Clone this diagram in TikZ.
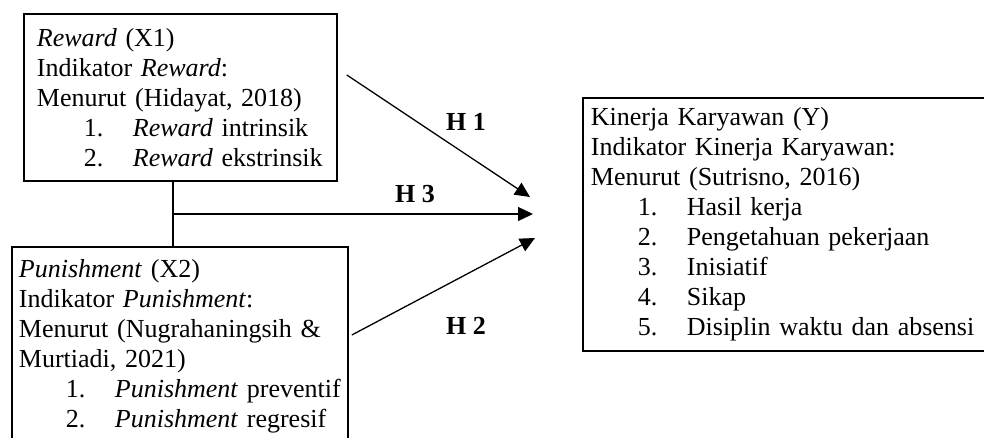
\documentclass[tikz,border=0pt]{standalone}
\usepackage{fontspec}
\setmainfont{Liberation Serif}
\usetikzlibrary{arrows.meta}
\newcommand{\itm}[2]{\hspace*{23.5pt}\makebox[24.5pt][l]{#1}#2}

\begin{document}
\begin{tikzpicture}[x=0.5pt,y=-0.5pt,
  varbox/.style={draw,line width=0.9pt,anchor=north west,align=left,
    font=\fontsize{13}{15}\selectfont,inner ysep=4.5pt},
  hyp/.style={line width=0.65pt,-{Triangle[length=7.5pt,width=7pt]}},
  hlabel/.style={font=\fontsize{13}{15}\selectfont\bfseries}]
  \useasboundingbox (0,0) rectangle (984,438);
  \clip (0,0) rectangle (984,438);
  % independent variables
  \node[varbox,inner xsep=6.5pt,text width=143.5pt,minimum height=83.5pt] (rwd) at (23,13)
    {\textit{Reward} (X1)\\
     Indikator \textit{Reward}:\\
     Menurut (Hidayat, 2018)\\
     \itm{1.}{\textit{Reward} intrinsik}\\
     \itm{2.}{\textit{Reward} ekstrinsik}};
  \node[varbox,inner xsep=3.5pt,text width=161pt,inner ysep=6.5pt] (pun) at (11,246)
    {\textit{Punishment} (X2)\\
     Indikator \textit{Punishment}:\\
     Menurut (Nugrahaningsih \&\\
     Murtiadi, 2021)\\
     \itm{1.}{\textit{Punishment} preventif}\\
     \itm{2.}{\textit{Punishment} regresif}};
  % dependent variable
  \node[varbox,inner xsep=4pt,text width=201pt,minimum height=126.5pt] (kin) at (582,97)
    {Kinerja Karyawan (Y)\\
     Indikator Kinerja Karyawan:\\
     Menurut (Sutrisno, 2016)\\
     \itm{1.}{Hasil kerja}\\
     \itm{2.}{Pengetahuan pekerjaan}\\
     \itm{3.}{Inisiatif}\\
     \itm{4.}{Sikap}\\
     \itm{5.}{Disiplin waktu dan absensi}};
  % arrow ends
  \coordinate (hub) at (173,214);
  \coordinate (t1) at (530,197);
  \coordinate (t3) at (533,214);
  \coordinate (t2) at (535,238);
  % hypotheses
  \draw[line width=0.65pt] (rwd.south -| hub) -- (pun.north -| hub);
  \draw[hyp] ([shift={(9,62)}]rwd.north east) -- (t1);
  \draw[hyp] (hub) -- (t3);
  \draw[hyp] ([shift={(3,89)}]pun.north east) -- (t2);
  \node[hlabel] (h1) at (466,122) {H 1};
  \node[hlabel] (h3) at (415,194) {H 3};
  \node[hlabel] (h2) at (466,326) {H 2};
\end{tikzpicture}
\end{document}
